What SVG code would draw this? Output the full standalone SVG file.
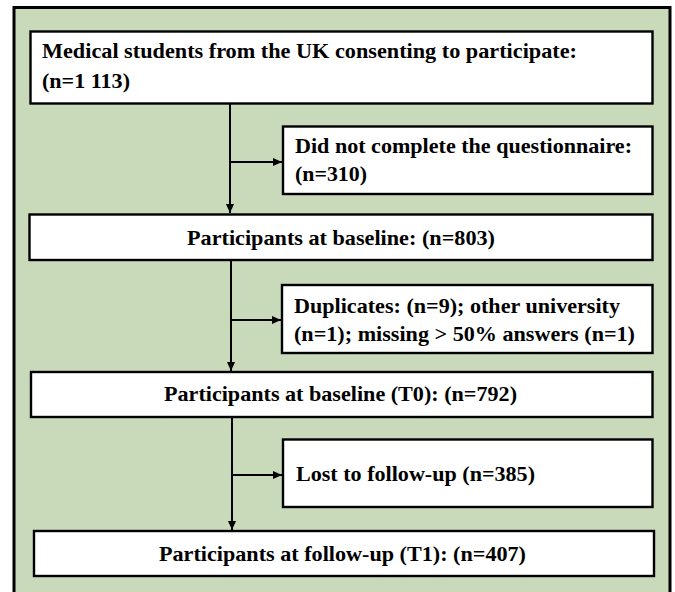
<svg xmlns="http://www.w3.org/2000/svg" width="675" height="592" viewBox="0 0 675 592">
<defs>
<style>
.box{fill:#fff;stroke:#000;stroke-width:2.4}
.t{font-family:"Liberation Serif","Times New Roman",serif;font-weight:bold;font-size:21px;fill:#000}
.ln{stroke:#000;stroke-width:2;fill:none}
</style>
<marker id="ah" markerWidth="9" markerHeight="8" refX="9" refY="4" orient="auto" markerUnits="userSpaceOnUse">
<path d="M0,0 L9,4 L0,8 Z" fill="#000"/>
</marker>
</defs>
<rect width="675" height="592" fill="#fff"/>
<rect id="frame" x="14" y="7.5" width="656" height="600" fill="#C9DABB" stroke="#000" stroke-width="3"/>
<g id="connectors">
<line class="ln" x1="230" y1="103" x2="230" y2="213" marker-end="url(#ah)"/>
<line class="ln" x1="230" y1="162" x2="282" y2="162" marker-end="url(#ah)"/>
<line class="ln" x1="231" y1="260" x2="231" y2="371" marker-end="url(#ah)"/>
<line class="ln" x1="231" y1="320" x2="281" y2="320" marker-end="url(#ah)"/>
<line class="ln" x1="232" y1="417" x2="232" y2="530" marker-end="url(#ah)"/>
<line class="ln" x1="232" y1="475" x2="282" y2="475" marker-end="url(#ah)"/>
</g>
<g id="n1">
<rect class="box" x="30.5" y="31.5" width="622" height="72"/>
<text class="t" x="42" y="58" textLength="535" lengthAdjust="spacingAndGlyphs">Medical students from the UK consenting to participate:</text>
<text class="t" x="42" y="88" textLength="88" lengthAdjust="spacingAndGlyphs">(n=1 113)</text>
</g>
<g id="n2">
<rect class="box" x="283" y="126.5" width="369.5" height="67.5"/>
<text class="t" x="295" y="153" textLength="337" lengthAdjust="spacingAndGlyphs">Did not complete the questionnaire:</text>
<text class="t" x="295" y="181" textLength="72" lengthAdjust="spacingAndGlyphs">(n=310)</text>
</g>
<g id="n3">
<rect class="box" x="29.5" y="214.5" width="623" height="45.5"/>
<text class="t" x="187" y="245" textLength="308" lengthAdjust="spacingAndGlyphs">Participants at baseline: (n=803)</text>
</g>
<g id="n4">
<rect class="box" x="282" y="285" width="370.5" height="68"/>
<text class="t" x="294" y="313" textLength="326" lengthAdjust="spacingAndGlyphs">Duplicates: (n=9); other university</text>
<text class="t" x="294" y="341" textLength="341" lengthAdjust="spacingAndGlyphs">(n=1); missing &gt; 50% answers (n=1)</text>
</g>
<g id="n5">
<rect class="box" x="31" y="372" width="621.5" height="45"/>
<text class="t" x="164" y="401" textLength="353" lengthAdjust="spacingAndGlyphs">Participants at baseline (T0): (n=792)</text>
</g>
<g id="n6">
<rect class="box" x="283" y="439.5" width="369.5" height="67.5"/>
<text class="t" x="296" y="481" textLength="239" lengthAdjust="spacingAndGlyphs">Lost to follow-up (n=385)</text>
</g>
<g id="n7">
<rect class="box" x="34" y="531" width="620" height="45"/>
<text class="t" x="159" y="561" textLength="367" lengthAdjust="spacingAndGlyphs">Participants at follow-up (T1): (n=407)</text>
</g>
</svg>
